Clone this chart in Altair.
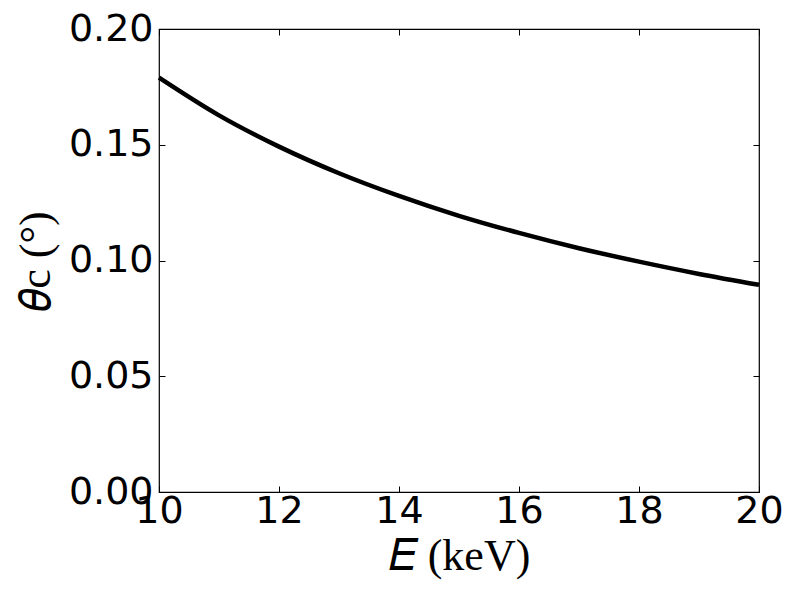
import altair as alt
import pandas as pd

energy_kev = [10, 11, 12, 13, 14, 15, 16, 17, 18, 19, 20]
theta_c_deg = [0.179, 0.1627, 0.1492, 0.1377, 0.1279, 0.1193, 0.1119, 0.1053, 0.0995, 0.0942, 0.0895]
x_ticks = [10, 12, 14, 16, 18, 20]
y_ticks = [0.0, 0.05, 0.10, 0.15, 0.20]

df = pd.DataFrame({"E": energy_kev, "theta": theta_c_deg})

FS = 38
TFS = 44
TICK = 6
label_font = "DejaVu Sans"
title_font = "Liberation Serif"

xs = alt.Scale(domain=[10, 20], nice=False, zero=False)
ys = alt.Scale(domain=[0, 0.2], nice=False, zero=False)

main = alt.Chart(df).mark_line(color="black", strokeWidth=4.5, interpolate="monotone").encode(
    x=alt.X("E:Q", scale=xs, title="𝐸 (keV)",
            axis=alt.Axis(orient="bottom", values=x_ticks, format="d", offset=-TICK,
                          tickSize=TICK, tickColor="black", domain=False, grid=False,
                          labelFont=label_font, labelFontSize=FS, labelColor="black",
                          labelPadding=0, labelOverlap=False, labelFlush=False,
                          titleFont=title_font, titleFontSize=TFS, titleFontWeight="normal",
                          titleColor="black", titlePadding=4)),
    y=alt.Y("theta:Q", scale=ys, title="𝜃c (°)",
            axis=alt.Axis(orient="left", values=y_ticks, format=".2f", offset=-TICK,
                          tickSize=TICK, tickColor="black", domain=False, grid=False,
                          labelFont=label_font, labelFontSize=FS, labelColor="black",
                          labelPadding=6, labelOverlap=False, labelFlush=False,
                          titleFont=title_font, titleFontSize=TFS, titleFontWeight="normal",
                          titleColor="black", titlePadding=10)),
)

ticks_only = alt.Chart(df).mark_line(strokeOpacity=0).encode(
    x=alt.X("E:Q", scale=xs, title=None,
            axis=alt.Axis(orient="top", values=x_ticks, offset=-TICK, tickSize=TICK,
                          tickColor="black", domain=False, grid=False, labels=False)),
    y=alt.Y("theta:Q", scale=ys, title=None,
            axis=alt.Axis(orient="right", values=y_ticks, offset=-TICK, tickSize=TICK,
                          tickColor="black", domain=False, grid=False, labels=False)),
)

chart = alt.layer(main, ticks_only).resolve_scale(x="independent", y="independent").properties(
    width=600, height=463,
    autosize=alt.AutoSizeParams(type="none"),
    padding={"left": 151, "top": 21, "right": 30, "bottom": 90},
    background="white",
).configure_view(stroke="black", strokeWidth=1.2)

chart.save("out.html", embed_options={"renderer": "svg", "actions": False})
